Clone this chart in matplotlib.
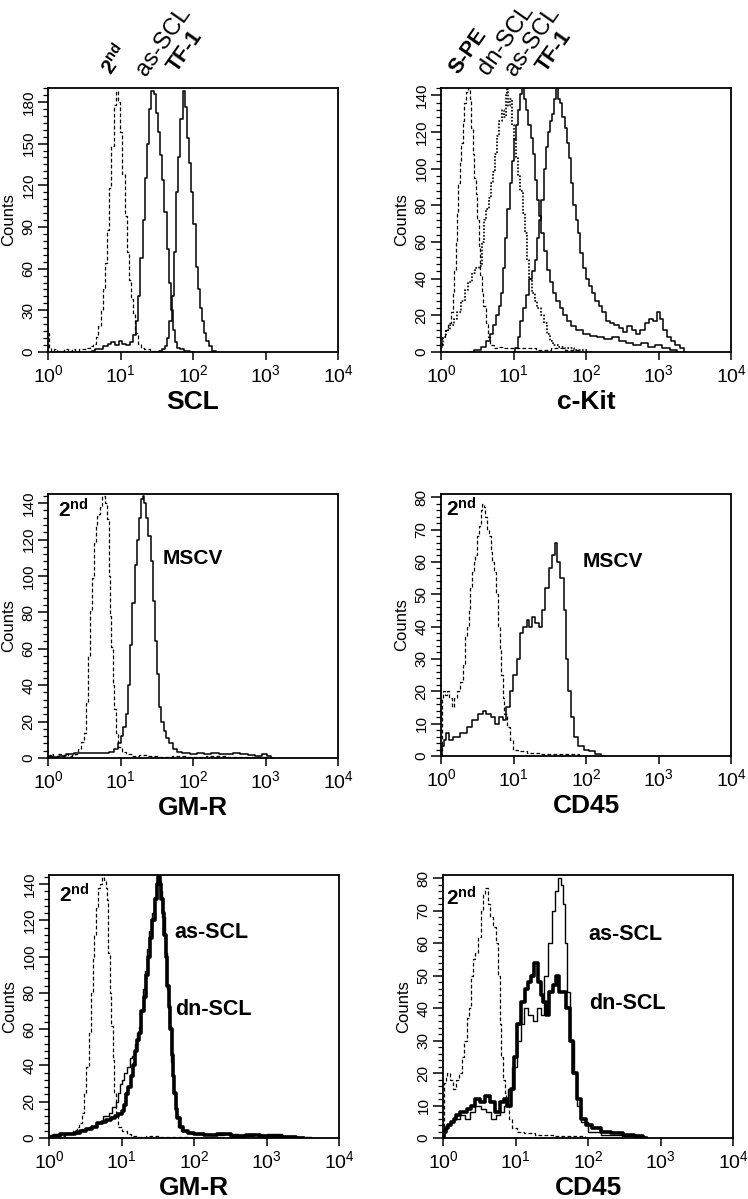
import matplotlib
matplotlib.use('Agg')
import matplotlib.pyplot as plt
import numpy as np
from matplotlib.ticker import LogLocator, LogFormatterMathtext, NullFormatter, MultipleLocator

# x values are log10 of fluorescence intensity, y values are counts

# --- SCL panel
scl_2nd_x = [0.00, 0.03, 0.06, 0.10, 0.15, 0.20, 0.25, 0.30, 0.35, 0.40, 0.45, 0.50, 0.55, 0.60, 0.64, 0.68, 0.71, 0.74, 0.77, 0.80,
             0.83, 0.86, 0.89, 0.92, 0.95, 0.98, 1.01, 1.04, 1.07, 1.10, 1.13, 1.16, 1.19, 1.22, 1.26, 1.30, 1.35, 1.45, 1.60]
scl_2nd_y = [14, 3, 1, 2, 1, 1, 2, 1, 2, 1, 2, 2, 3, 4, 6, 11, 19, 30, 45, 64,
             88, 118, 148, 178, 188, 180, 158, 128, 98, 72, 52, 38, 28, 14, 6, 3, 2, 1, 0]
scl_as_x = [0.60, 0.70, 0.80, 0.85, 0.90, 0.95, 1.00, 1.05, 1.10, 1.15, 1.20, 1.23, 1.26, 1.29, 1.32, 1.35, 1.38, 1.41, 1.44, 1.47,
            1.50, 1.53, 1.56, 1.59, 1.62, 1.65, 1.68, 1.71, 1.74, 1.77, 1.80, 1.85, 1.90, 2.00]
scl_as_y = [1, 2, 4, 6, 7, 5, 8, 6, 5, 7, 12, 22, 40, 68, 95, 125, 150, 175, 188, 186,
            172, 158, 142, 124, 101, 74, 50, 30, 16, 7, 3, 2, 1, 0]
scl_tf1_x = [1.50, 1.55, 1.60, 1.63, 1.66, 1.69, 1.72, 1.75, 1.78, 1.81, 1.84, 1.87, 1.90, 1.93, 1.96, 1.99, 2.02, 2.05, 2.08, 2.11,
             2.14, 2.17, 2.20, 2.24, 2.28, 2.35]
scl_tf1_y = [0, 1, 2, 4, 10, 22, 40, 72, 115, 140, 168, 188, 176, 154, 136, 115, 92, 61, 45, 32,
             22, 14, 8, 4, 1, 0]

# --- c-Kit panel
kit_spe_x = [0.00, 0.04, 0.08, 0.12, 0.15, 0.17, 0.19, 0.21, 0.23, 0.25, 0.27, 0.29, 0.31, 0.33, 0.36, 0.39, 0.41, 0.43, 0.45, 0.47,
             0.49, 0.51, 0.53, 0.55, 0.57, 0.60, 0.63, 0.66, 0.70, 0.75, 0.80, 0.90, 1.00, 1.20, 1.40, 1.60, 1.80, 2.00]
kit_spe_y = [4, 8, 12, 16, 22, 32, 45, 60, 76, 92, 104, 114, 126, 136, 142, 144, 138, 122, 108, 95,
             86, 72, 58, 42, 32, 25, 16, 8, 4, 2, 3, 2, 2, 2, 1, 2, 1, 0]
kit_dn_x = [0.00, 0.05, 0.10, 0.15, 0.20, 0.25, 0.30, 0.35, 0.40, 0.45, 0.50, 0.55, 0.58, 0.61, 0.64, 0.67, 0.70, 0.73, 0.76, 0.79,
            0.82, 0.85, 0.88, 0.90, 0.92, 0.94, 0.96, 0.99, 1.02, 1.05, 1.08, 1.11, 1.14, 1.17, 1.20, 1.23, 1.27, 1.31, 1.35, 1.40,
            1.44, 1.48, 1.52, 1.58, 1.65, 1.75, 1.90, 2.10]
kit_dn_y = [3, 8, 12, 15, 18, 22, 28, 34, 38, 43, 46, 47, 60, 72, 78, 84, 92, 98, 108, 118,
            126, 132, 128, 140, 144, 134, 138, 124, 116, 106, 96, 88, 76, 65, 50, 40, 32, 28, 24, 20,
            16, 10, 6, 4, 3, 2, 1, 0]
kit_as_x = [0.40, 0.50, 0.60, 0.65, 0.70, 0.74, 0.78, 0.81, 0.84, 0.87, 0.90, 0.93, 0.96, 0.99, 1.02, 1.05, 1.08, 1.11, 1.13, 1.16,
            1.19, 1.22, 1.25, 1.28, 1.31, 1.34, 1.37, 1.40, 1.44, 1.48, 1.52, 1.56, 1.61, 1.66, 1.71, 1.76, 1.82, 1.90, 2.00, 2.10,
            2.20, 2.30, 2.40, 2.50, 2.60, 2.70, 2.80, 2.90, 3.00, 3.10, 3.20, 3.30]
kit_as_y = [0, 1, 3, 6, 10, 15, 20, 25, 32, 46, 62, 78, 92, 104, 116, 124, 132, 141, 144, 138,
            132, 124, 117, 108, 94, 83, 74, 65, 55, 45, 38, 32, 28, 24, 20, 17, 14, 12, 10, 9,
            8, 7, 8, 6, 5, 4, 5, 3, 4, 2, 1, 0]
kit_tf1_x = [1.00, 1.05, 1.08, 1.11, 1.15, 1.19, 1.23, 1.27, 1.31, 1.34, 1.37, 1.40, 1.43, 1.46, 1.49, 1.52, 1.55, 1.58, 1.60, 1.63,
             1.66, 1.69, 1.72, 1.75, 1.78, 1.81, 1.84, 1.87, 1.90, 1.94, 1.98, 2.02, 2.06, 2.10, 2.15, 2.20, 2.25, 2.30, 2.36, 2.42,
             2.48, 2.54, 2.60, 2.66, 2.72, 2.78, 2.84, 2.90, 2.95, 3.00, 3.04, 3.08, 3.14, 3.20, 3.26, 3.32, 3.38]
kit_tf1_y = [0, 2, 8, 17, 24, 31, 40, 44, 50, 62, 72, 83, 100, 112, 120, 126, 130, 138, 144, 138,
             136, 128, 122, 114, 106, 92, 80, 72, 65, 54, 46, 40, 36, 32, 28, 25, 22, 17, 16, 15,
             13, 11, 14, 12, 10, 12, 16, 18, 17, 22, 18, 12, 8, 6, 4, 2, 0]

# --- GM-R panel (MSCV)
gmr_2nd_x = [0.00, 0.05, 0.10, 0.15, 0.20, 0.25, 0.30, 0.35, 0.40, 0.44, 0.48, 0.51, 0.54, 0.57, 0.60, 0.625, 0.65, 0.67, 0.69, 0.71,
             0.73, 0.75, 0.77, 0.79, 0.81, 0.83, 0.845, 0.86, 0.88, 0.90, 0.92, 0.95, 0.99, 1.04, 1.10, 1.20, 1.30, 1.45, 1.60, 1.80,
             2.00, 2.30, 2.60, 2.90, 3.10]
gmr_2nd_y = [1, 2, 0.5, 2, 1, 2, 1, 1.5, 2, 5, 9, 14, 30, 56, 81, 99, 118, 128, 133, 134,
             138, 144, 144, 140, 140, 131, 100, 78, 61, 40, 27, 13.5, 6, 3.5, 2, 1, 1.5, 1, 0.5, 1,
             0.5, 1, 0.5, 0.5, 0]
gmr_mscv_x = [0.00, 0.10, 0.20, 0.30, 0.40, 0.50, 0.60, 0.70, 0.80, 0.88, 0.94, 0.98, 1.02, 1.06, 1.09, 1.12, 1.15, 1.18, 1.21, 1.24,
              1.27, 1.30, 1.32, 1.34, 1.37, 1.40, 1.43, 1.46, 1.49, 1.52, 1.55, 1.58, 1.61, 1.65, 1.70, 1.75, 1.80, 1.90, 2.00, 2.10,
              2.20, 2.30, 2.40, 2.50, 2.60, 2.70, 2.80, 2.90, 3.00, 3.05, 3.10]
gmr_mscv_y = [1, 0.5, 1, 2, 3, 2.5, 3, 2.5, 3, 3.5, 5, 8, 12, 17, 24, 40, 62, 85, 106, 120,
              132, 142, 144, 140, 132, 122, 108, 86, 64, 46, 28, 20, 15, 11, 8, 5, 3.5, 2.5, 2, 2.5,
              2, 2.5, 2, 2, 2.5, 2, 1.5, 1, 2, 1, 0]

# --- CD45 panel (MSCV)
cd45_2nd_x = [0.00, 0.02, 0.04, 0.07, 0.10, 0.13, 0.16, 0.20, 0.24, 0.28, 0.32, 0.35, 0.37, 0.39, 0.41, 0.44, 0.46, 0.48, 0.51, 0.53,
              0.56, 0.58, 0.60, 0.62, 0.65, 0.67, 0.70, 0.72, 0.75, 0.78, 0.80, 0.82, 0.84, 0.86, 0.89, 0.93, 0.97, 1.02, 1.11, 1.25,
              1.48, 1.70, 1.86, 1.95]
cd45_2nd_y = [0, 18, 20, 19, 20, 18, 15, 18, 20, 23, 28, 37, 40, 45, 52, 57, 60, 62, 68, 71,
              76, 78, 77, 74, 70, 68, 63, 60, 57, 50, 40, 33, 25, 18, 13, 9, 5, 2, 1.5, 1,
              0.5, 0.5, 0.5, 0]
cd45_mscv_x = [0.00, 0.02, 0.05, 0.09, 0.14, 0.19, 0.23, 0.28, 0.33, 0.39, 0.46, 0.55, 0.60, 0.65, 0.72, 0.77, 0.83, 0.88, 0.92, 0.97,
               1.02, 1.065, 1.11, 1.16, 1.20, 1.24, 1.27, 1.32, 1.37, 1.41, 1.46, 1.51, 1.55, 1.59, 1.62, 1.67, 1.71, 1.74, 1.77, 1.81,
               1.86, 1.93, 2.00, 2.09, 2.16, 2.25]
cd45_mscv_y = [0, 3, 5, 7, 5, 6, 6, 7, 7, 9, 11, 13, 14, 13, 12, 10, 12, 11, 15, 20,
               25, 30, 38, 40, 42, 40, 43, 41, 40, 45, 52, 58, 62, 66, 60, 55, 45, 30, 20, 12,
               6, 3, 2, 1.5, 0.5, 0]

# --- GM-R panel (as-SCL / dn-SCL)
gmr2_2nd_x = [0.00, 0.05, 0.10, 0.15, 0.20, 0.25, 0.30, 0.36, 0.40, 0.43, 0.47, 0.50, 0.53, 0.56, 0.59, 0.61, 0.63, 0.66, 0.69, 0.72,
              0.745, 0.77, 0.79, 0.81, 0.83, 0.85, 0.87, 0.89, 0.91, 0.93, 0.97, 1.04, 1.10, 1.16, 1.25, 1.40, 1.60, 1.80, 2.00]
gmr2_2nd_y = [1, 2, 1, 3, 1, 2, 3, 4.5, 6, 8, 14, 25, 39, 58, 80, 100, 112, 127, 138, 140,
              144, 142, 138, 131, 102, 80, 62, 43, 25, 14, 6, 3.7, 2, 1, 0.5, 1, 0.5, 0.5, 0]
gmr2_as_x = [0.00, 0.10, 0.20, 0.30, 0.40, 0.50, 0.60, 0.69, 0.80, 0.85, 0.90, 0.94, 0.97, 1.00, 1.02, 1.05, 1.09, 1.13, 1.16, 1.20,
             1.23, 1.25, 1.28, 1.31, 1.34, 1.37, 1.40, 1.43, 1.46, 1.49, 1.52, 1.55, 1.58, 1.61, 1.64, 1.67, 1.70, 1.73, 1.76, 1.80,
             1.85, 1.95, 2.10, 2.30, 2.50, 2.70, 2.90, 3.10, 3.30, 3.50, 3.70]
gmr2_as_y = [1, 2, 2, 3, 4, 5, 6, 8, 12, 14, 17, 20, 25, 30, 32, 36, 39, 44, 45, 52,
             58, 61, 70, 82, 92, 104, 114, 124, 133, 140, 142, 136, 122, 102, 82, 62, 42, 24, 12, 6,
             4, 2.5, 2, 1.5, 2, 1, 1.5, 2, 1, 0.5, 0]
gmr2_dn_x = [0.00, 0.10, 0.20, 0.30, 0.40, 0.46, 0.55, 0.62, 0.69, 0.76, 0.82, 0.88, 0.93, 0.98, 1.02, 1.05, 1.08, 1.11, 1.14, 1.17,
             1.20, 1.23, 1.26, 1.29, 1.32, 1.35, 1.38, 1.41, 1.44, 1.47, 1.50, 1.52, 1.54, 1.56, 1.58, 1.60, 1.62, 1.64, 1.66, 1.68,
             1.70, 1.72, 1.74, 1.76, 1.78, 1.82, 1.88, 1.95, 2.05, 2.20, 2.40, 2.60, 2.80, 3.00, 3.10, 3.30, 3.50]
gmr2_dn_y = [0.5, 1, 2, 2, 3, 4, 5, 6, 8, 9, 10, 11, 12, 13, 15, 18, 24, 28, 34, 40,
             48, 54, 58, 70, 78, 90, 100, 110, 120, 132, 140, 144, 140, 132, 124, 112, 100, 84, 72, 60,
             46, 34, 25, 16, 11, 6, 4, 3, 2, 1.5, 2, 1, 1.5, 1, 1, 0.5, 0]

# --- CD45 panel (as-SCL / dn-SCL)
cd45b_2nd_x = [0.00, 0.02, 0.05, 0.07, 0.11, 0.16, 0.20, 0.24, 0.28, 0.31, 0.34, 0.37, 0.40, 0.42, 0.45, 0.47, 0.50, 0.54, 0.57, 0.60,
               0.63, 0.66, 0.71, 0.75, 0.77, 0.79, 0.82, 0.84, 0.86, 0.89, 0.93, 0.98, 1.07, 1.17, 1.35, 1.63, 1.90, 2.00]
cd45b_2nd_y = [0, 17, 19, 20, 18, 15, 18, 20, 25, 30, 37, 40, 50, 55, 57, 57, 62, 70, 75, 77,
               72, 68, 65, 60, 50, 35, 25, 18, 14, 10, 6, 3, 2, 1.5, 1, 0.5, 0.5, 0]
cd45b_as_x = [0.00, 0.03, 0.07, 0.12, 0.19, 0.28, 0.33, 0.40, 0.47, 0.56, 0.63, 0.70, 0.75, 0.82, 0.86, 0.93, 0.98, 1.05, 1.10, 1.14,
              1.21, 1.26, 1.33, 1.375, 1.42, 1.47, 1.53, 1.57, 1.61, 1.64, 1.67, 1.70, 1.73, 1.78, 1.82, 1.87, 1.93, 2.05, 2.28, 2.60,
              2.80]
cd45b_as_y = [0, 3, 4, 5, 6, 7, 6, 8, 10, 9, 8, 6, 7, 8, 10, 15, 22, 30, 35, 40,
              38, 36, 40, 38, 50, 60, 70, 76, 80, 78, 72, 60, 45, 30, 20, 10, 5, 2, 1, 0.5,
              0]
cd45b_dn_x = [0.00, 0.02, 0.05, 0.09, 0.13, 0.16, 0.21, 0.26, 0.31, 0.35, 0.41, 0.47, 0.54, 0.61, 0.68, 0.75, 0.82, 0.86, 0.91, 0.96,
              1.00, 1.05, 1.10, 1.15, 1.19, 1.24, 1.28, 1.33, 1.37, 1.40, 1.445, 1.49, 1.54, 1.58, 1.62, 1.68, 1.72, 1.77, 1.82, 1.865,
              1.93, 2.00, 2.10, 2.24, 2.38, 2.56, 2.70, 2.80]
cd45b_dn_y = [0, 2, 3, 4, 5, 6, 7, 8, 8, 9, 10, 12, 11, 13, 11, 8, 11, 12, 10, 15,
              25, 35, 42, 46, 48, 50, 54, 48, 44, 42, 38, 45, 47, 50, 45, 45, 40, 30, 20, 12,
              6, 4, 3, 2, 1.5, 1, 0.5, 0]

# axis settings
scl_yticks = [0, 30, 60, 90, 120, 150, 180]
kit_yticks = [0, 20, 40, 60, 80, 100, 120, 140]
cd45_yticks = [0, 10, 20, 30, 40, 50, 60, 70, 80]
x_decades = [1, 10, 100, 1000, 10000]

plt.rcParams['font.family'] = ['Liberation Sans', 'DejaVu Sans']
plt.rcParams['mathtext.fontset'] = 'custom'
plt.rcParams['mathtext.rm'] = 'Liberation Sans'
plt.rcParams['mathtext.bf'] = 'Liberation Sans:bold'
plt.rcParams['mathtext.it'] = 'Liberation Sans:italic'

NARROW = ['Liberation Sans Narrow', 'Liberation Sans', 'DejaVu Sans']
DASH = (0, (3, 1.8))


def curve(ax, xs, ys, **kw):
    ax.plot(10 ** np.array(xs), ys, drawstyle='steps-mid', color='black', **kw)


def setup(ax, ymax, yticks, yminor, xlabel):
    ax.set_xscale('log')
    ax.set_xlim(1, 1e4)
    ax.set_ylim(0, ymax)
    ax.set_xticks(x_decades)
    ax.xaxis.set_major_formatter(LogFormatterMathtext())
    ax.xaxis.set_minor_locator(LogLocator(base=10, subs=np.arange(2, 10)))
    ax.xaxis.set_minor_formatter(NullFormatter())
    ax.set_yticks(yticks)
    ax.yaxis.set_minor_locator(MultipleLocator(yminor))
    ax.tick_params(axis='x', which='major', direction='out', length=6, width=1.1, labelsize=14, pad=3)
    ax.tick_params(axis='x', which='minor', direction='out', length=3.5, width=0.9)
    ax.tick_params(axis='y', which='major', direction='out', length=7, width=1.1, labelsize=11, pad=2,
                   labelrotation=90)
    ax.tick_params(axis='y', which='minor', direction='out', length=3.5, width=0.9)
    for lab in ax.get_yticklabels():
        lab.set_va('center')
        lab.set_family(NARROW)
    for sp in ax.spines.values():
        sp.set_linewidth(1.3)
    ax.set_ylabel('Counts', fontsize=12, family=NARROW)
    ax.yaxis.set_label_coords(-0.135, 0.5)
    ax.yaxis.label.set_va('center')
    ax.set_xlabel(xlabel, fontsize=19, fontweight='bold')
    ax.xaxis.set_label_coords(0.5, -0.19)
    ax.xaxis.label.set_va('center')


def top_label(ax, x, y, s, bold, size):
    ax.text(10 ** x, y, s, transform=ax.get_xaxis_transform(), rotation=55, rotation_mode='anchor',
            ha='left', va='bottom', fontsize=size, fontweight='bold' if bold else 'normal', clip_on=False)


fig = plt.figure(figsize=(7.48, 11.99), dpi=100)
W = 290 / 748
ax1 = fig.add_axes([48 / 748, 1 - 352 / 1199, W, 264 / 1199])
ax2 = fig.add_axes([441 / 748, 1 - 352 / 1199, W, 264 / 1199])
ax3 = fig.add_axes([48 / 748, 1 - 758 / 1199, W, 264 / 1199])
ax4 = fig.add_axes([441 / 748, 1 - 756 / 1199, W, 262 / 1199])
ax5 = fig.add_axes([49 / 748, 1 - 1138 / 1199, W, 263 / 1199])
ax6 = fig.add_axes([443 / 748, 1 - 1138 / 1199, W, 263 / 1199])

# SCL
curve(ax1, scl_2nd_x, scl_2nd_y, lw=0.9, ls=DASH)
curve(ax1, scl_as_x, scl_as_y, lw=1.1)
curve(ax1, scl_tf1_x, scl_tf1_y, lw=1.1)
setup(ax1, 190, scl_yticks, 5, 'SCL')
top_label(ax1, 0.93, 1.035, r'$\mathbf{2^{nd}}$', True, 15)
top_label(ax1, 1.41, 1.03, 'as-SCL', False, 17)
top_label(ax1, 1.83, 1.045, 'TF-1', True, 15.5)

# c-Kit
curve(ax2, kit_spe_x, kit_spe_y, lw=0.9, ls=DASH)
curve(ax2, kit_dn_x, kit_dn_y, lw=1.2, ls=(0, (1, 1)))
curve(ax2, kit_as_x, kit_as_y, lw=1.1)
curve(ax2, kit_tf1_x, kit_tf1_y, lw=1.1)
setup(ax2, 144, kit_yticks, 4, 'c-Kit')
top_label(ax2, 0.30, 1.04, 'S-PE', True, 15.5)
top_label(ax2, 0.71, 1.035, 'dn-SCL', False, 17)
top_label(ax2, 1.08, 1.03, 'as-SCL', False, 17)
top_label(ax2, 1.50, 1.045, 'TF-1', True, 15.5)

# GM-R, MSCV
curve(ax3, gmr_2nd_x, gmr_2nd_y, lw=0.9, ls=DASH)
curve(ax3, gmr_mscv_x, gmr_mscv_y, lw=1.1)
setup(ax3, 145, kit_yticks, 4, 'GM-R')
ax3.text(0.035, 0.94, r'$\mathbf{2^{nd}}$', transform=ax3.transAxes, ha='left', va='center', fontsize=15)
ax3.text(0.395, 0.757, 'MSCV', transform=ax3.transAxes, ha='left', va='center', fontsize=15, fontweight='bold')

# CD45, MSCV
curve(ax4, cd45_2nd_x, cd45_2nd_y, lw=0.9, ls=DASH)
curve(ax4, cd45_mscv_x, cd45_mscv_y, lw=1.1)
setup(ax4, 81, cd45_yticks, 2, 'CD45')
ax4.text(0.017, 0.945, r'$\mathbf{2^{nd}}$', transform=ax4.transAxes, ha='left', va='center', fontsize=15)
ax4.text(0.49, 0.744, 'MSCV', transform=ax4.transAxes, ha='left', va='center', fontsize=15, fontweight='bold')

# GM-R, as-SCL / dn-SCL
curve(ax5, gmr2_2nd_x, gmr2_2nd_y, lw=0.9, ls=DASH)
curve(ax5, gmr2_as_x, gmr2_as_y, lw=1.0)
curve(ax5, gmr2_dn_x, gmr2_dn_y, lw=2.6)
setup(ax5, 145, kit_yticks, 4, 'GM-R')
ax5.text(0.035, 0.924, r'$\mathbf{2^{nd}}$', transform=ax5.transAxes, ha='left', va='center', fontsize=15)
ax5.text(0.434, 0.78, 'as-SCL', transform=ax5.transAxes, ha='left', va='center', fontsize=15.5, fontweight='bold')
ax5.text(0.434, 0.487, 'dn-SCL', transform=ax5.transAxes, ha='left', va='center', fontsize=15.5, fontweight='bold')

# CD45, as-SCL / dn-SCL
curve(ax6, cd45b_2nd_x, cd45b_2nd_y, lw=0.9, ls=DASH)
curve(ax6, cd45b_as_x, cd45b_as_y, lw=1.0)
curve(ax6, cd45b_dn_x, cd45b_dn_y, lw=2.6)
setup(ax6, 81, cd45_yticks, 2, 'CD45')
ax6.text(0.012, 0.912, r'$\mathbf{2^{nd}}$', transform=ax6.transAxes, ha='left', va='center', fontsize=15)
ax6.text(0.503, 0.772, 'as-SCL', transform=ax6.transAxes, ha='left', va='center', fontsize=15.5, fontweight='bold')
ax6.text(0.503, 0.513, 'dn-SCL', transform=ax6.transAxes, ha='left', va='center', fontsize=15.5, fontweight='bold')

plt.savefig('out.png', dpi=100)
